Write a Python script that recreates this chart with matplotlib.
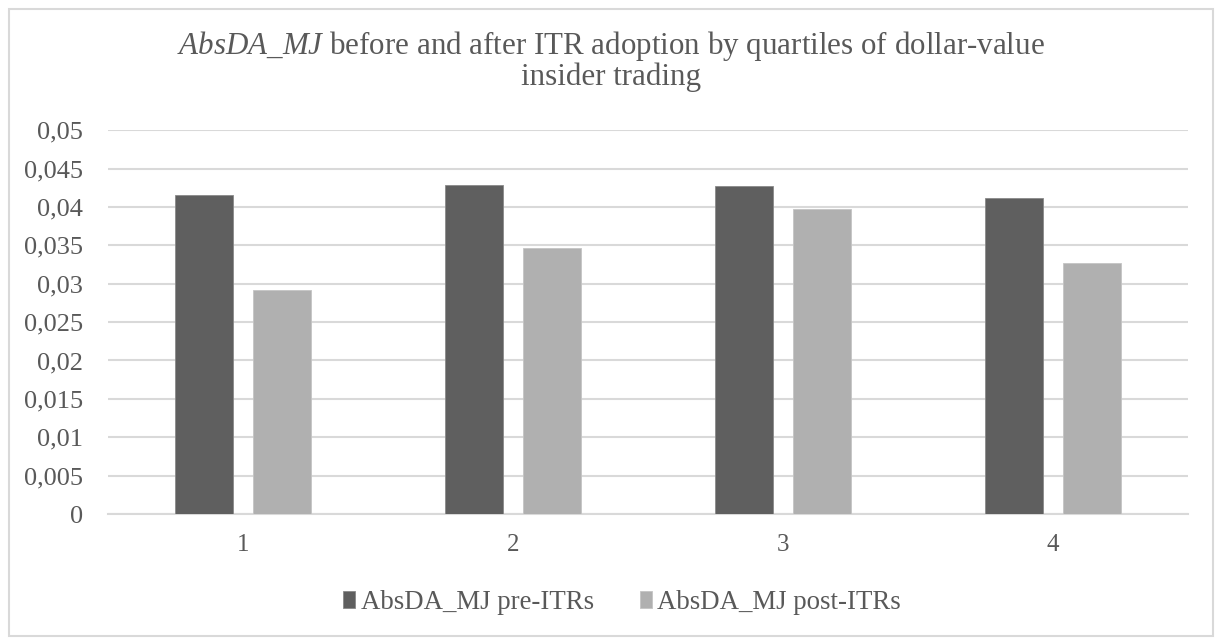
import numpy as np
import matplotlib
matplotlib.use("Agg")
import matplotlib.pyplot as plt
from matplotlib.patches import Rectangle

quartiles = ["1", "2", "3", "4"]
pre_itr = [0.0416, 0.0428, 0.0427, 0.0411]
post_itr = [0.0292, 0.0347, 0.0397, 0.0327]
y_ticks = [0, 0.005, 0.01, 0.015, 0.02, 0.025, 0.03, 0.035, 0.04, 0.045, 0.05]
y_labels = ["0", "0,005", "0,01", "0,015", "0,02", "0,025", "0,03", "0,035", "0,04", "0,045", "0,05"]

plt.rcParams['font.family'] = ['Liberation Serif', 'DejaVu Serif']
plt.rcParams['mathtext.fontset'] = 'custom'
plt.rcParams['mathtext.rm'] = 'Liberation Serif'
plt.rcParams['mathtext.it'] = 'Liberation Serif:italic'

fig = plt.figure(figsize=(12.22, 6.41), dpi=100)
# outer chart border
fig.patches.append(Rectangle((0.007, 0.008), 0.986, 0.978, transform=fig.transFigure,
                             fill=False, edgecolor="#d9d9d9", linewidth=1.5))

ax = fig.add_axes([0.0884, 0.198, 0.8838, 0.599])
x = np.arange(len(quartiles))
w = 0.218
off = 0.1444
ax.bar(x - off, pre_itr, w, color="#5f5f5f", edgecolor="#8a8a8a", linewidth=0.6,
       label="AbsDA_MJ pre-ITRs", zorder=3)
ax.bar(x + off, post_itr, w, color="#b0b0b0", edgecolor="#c4c4c4", linewidth=0.6,
       label="AbsDA_MJ post-ITRs", zorder=3)

ax.set_xlim(-0.5, 3.5)
ax.set_ylim(0, 0.05)
ax.set_yticks(y_ticks)
ax.set_yticklabels(y_labels)
ax.set_xticks(x)
ax.set_xticklabels(quartiles)
ax.tick_params(axis="y", length=0, pad=18, labelsize=19, labelcolor="#595959")
ax.tick_params(axis="x", length=0, pad=14, labelsize=18, labelcolor="#595959")
ax.grid(axis="y", color="#d9d9d9", linewidth=1.5, zorder=0)
for s in ["top", "right", "left"]:
    ax.spines[s].set_visible(False)
ax.spines["bottom"].set_color("#d9d9d9")
ax.spines["bottom"].set_linewidth(1.5)

fig.text(0.5, 0.906, r"$\mathit{AbsDA\_MJ}$ before and after ITR adoption by quartiles of dollar-value" + "\ninsider trading",
         ha="center", va="center", fontsize=22.3, color="#595959", linespacing=1.0)

fig.legend(loc="center", bbox_to_anchor=(0.509, 0.06), ncol=2, frameon=False,
           fontsize=19.4, labelcolor="#595959", handlelength=0.45, handleheight=0.55,
           handletextpad=0.2, columnspacing=1.7)

plt.savefig("out.png", dpi=100)
